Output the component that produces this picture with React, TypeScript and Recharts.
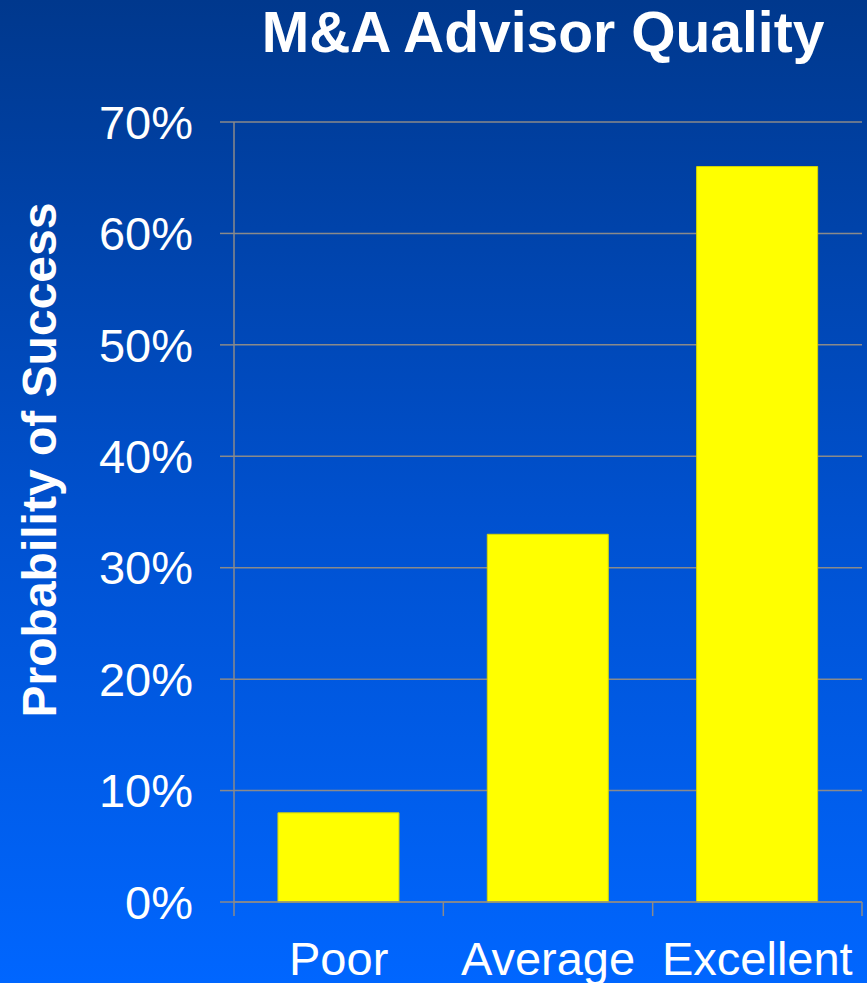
import React from 'react';
import { BarChart, Bar, XAxis, YAxis, CartesianGrid } from 'recharts';

const categories = ['Poor', 'Average', 'Excellent'];
const successRates = [0.08, 0.33, 0.66];
const yTicks = [0, 0.1, 0.2, 0.3, 0.4, 0.5, 0.6, 0.7];

const data = categories.map((quality, i) => ({ quality, success: successRates[i] }));

const FONT = '"Liberation Sans", Arial, sans-serif';
const GRID = '#8a8a8a';
const W = 867;
const H = 983;
const MARGIN = { top: 122, right: 5, left: 0, bottom: 0 };
const Y_AXIS_W = 234;
const PLOT_W = W - MARGIN.left - MARGIN.right - Y_AXIS_W;

const pct = (v: number) => `${Math.round(v * 100)}%`;

const YLabel = (props: any) => {
  const vb = props.viewBox || {};
  const cx = vb.x + 56;
  const cy = vb.y + vb.height / 2 - 52;
  return (
    <text
      x={cx}
      y={cy}
      transform={`rotate(-90, ${cx}, ${cy})`}
      textAnchor="middle"
      fill="#ffffff"
      fontFamily={FONT}
      fontWeight="bold"
      fontSize={48}
    >
      Probability of Success
    </text>
  );
};

// Category label at the band centre, with tick marks at the band edges
const CategoryTick = (props: any) => {
  const { x, y, payload, index } = props;
  const count = props.visibleTicksCount || categories.length;
  const axisW = typeof props.width === 'number' && props.width > 0 ? props.width : PLOT_W;
  const half = axisW / count / 2;
  const axisY = y;
  return (
    <g>
      <line x1={x - half} x2={x - half} y1={axisY} y2={axisY + 14} stroke={GRID} strokeWidth={1.5} />
      {index === count - 1 && (
        <line x1={x + half} x2={x + half} y1={axisY} y2={axisY + 14} stroke={GRID} strokeWidth={1.5} />
      )}
      <text
        x={x}
        y={axisY + 40}
        dy="0.71em"
        textAnchor="middle"
        fill="#ffffff"
        fontFamily={FONT}
        fontSize={47}
      >
        {payload.value}
      </text>
    </g>
  );
};

export default function App() {
  return (
    <div
      style={{
        position: 'absolute',
        left: 0,
        top: 0,
        width: W,
        height: H,
        background: 'linear-gradient(to bottom, #00388d 0%, #0052d2 55%, #0066ff 100%)',
        overflow: 'hidden',
      }}
    >
      <svg
        width={W}
        height={90}
        style={{ position: 'absolute', left: 0, top: 0, pointerEvents: 'none' }}
      >
        <text
          x={543}
          y={52}
          textAnchor="middle"
          fill="#ffffff"
          fontFamily={FONT}
          fontWeight="bold"
          fontSize={57}
        >
          M&amp;A Advisor Quality
        </text>
      </svg>
      <BarChart
        width={W}
        height={H}
        data={data}
        margin={MARGIN}
        barCategoryGap="21%"
      >
        <CartesianGrid vertical={false} stroke={GRID} strokeWidth={1.5} />
        <XAxis
          dataKey="quality"
          interval={0}
          height={81}
          tickSize={0}
          tickMargin={0}
          tickLine={false}
          axisLine={{ stroke: GRID, strokeWidth: 1.5 }}
          tick={<CategoryTick />}
        />
        <YAxis
          width={Y_AXIS_W}
          domain={[0, 0.7]}
          ticks={yTicks}
          tickFormatter={pct}
          tickSize={14}
          tickMargin={27}
          axisLine={{ stroke: GRID, strokeWidth: 1.5 }}
          tickLine={{ stroke: GRID, strokeWidth: 1.5 }}
          tick={{ fill: '#ffffff', fontSize: 47, fontFamily: FONT }}
          label={{ content: YLabel }}
        />
        <Bar
          dataKey="success"
          fill="#ffff00"
          stroke="#d6d600"
          strokeWidth={1}
          isAnimationActive={false}
        />
      </BarChart>
    </div>
  );
}
